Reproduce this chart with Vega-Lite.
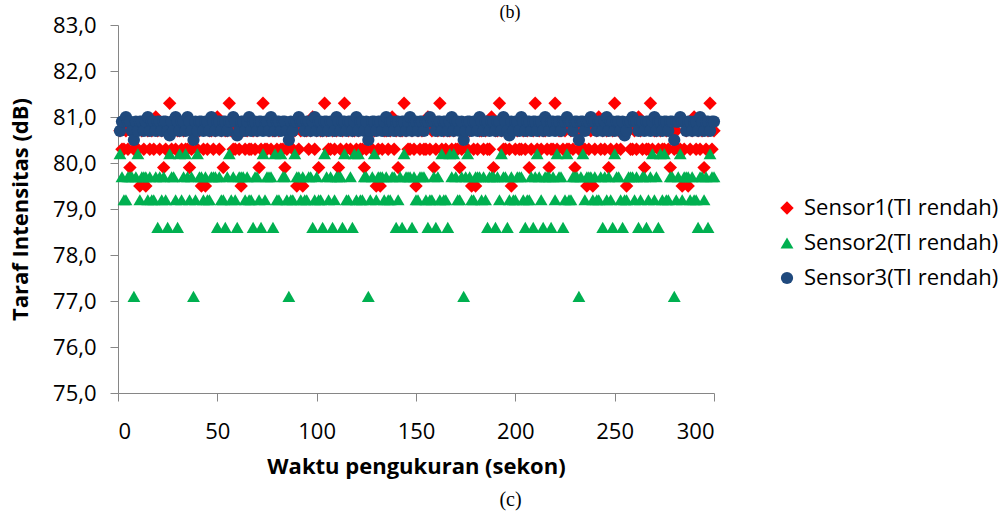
{
"$schema":"https://vega.github.io/schema/vega-lite/v6.json",
"width":596,"height":368,
"autosize":{"type":"none"},
"padding":{"left":118,"top":25,"right":293,"bottom":122},
"background":"white",
"config":{"view":{"stroke":null},"font":"Open Sans"},
"title":{"text":"(b)","font":"Liberation Serif","fontSize":18,"fontWeight":"normal","color":"black","anchor":"middle","frame":"group","dx":94,"offset":-8},
"data":{"values":[
{"t":1,"a":80.7,"b":80.2,"c":80.7},{"t":2,"a":80.3,"b":79.7,"c":80.9},{"t":3,"a":80.3,"b":79.2,"c":80.9},{"t":4,"a":80.7,"b":79.2,"c":81.0},{"t":5,"a":80.3,"b":79.7,"c":80.9},
{"t":6,"a":79.9,"b":79.7,"c":80.9},{"t":7,"a":80.7,"b":79.7,"c":80.7},{"t":8,"a":80.3,"b":77.1,"c":80.5},{"t":9,"a":80.7,"b":79.7,"c":80.9},{"t":10,"a":80.3,"b":80.2,"c":80.7},
{"t":11,"a":79.5,"b":79.2,"c":80.9},{"t":12,"a":80.7,"b":79.7,"c":80.9},{"t":13,"a":80.3,"b":79.7,"c":80.7},{"t":14,"a":79.5,"b":79.7,"c":80.9},{"t":15,"a":80.7,"b":79.2,"c":81.0},
{"t":16,"a":80.3,"b":79.7,"c":80.7},{"t":17,"a":80.7,"b":79.2,"c":80.9},{"t":18,"a":80.3,"b":79.2,"c":80.9},{"t":19,"a":81.0,"b":79.7,"c":80.7},{"t":20,"a":80.7,"b":78.6,"c":80.9},
{"t":21,"a":80.3,"b":79.7,"c":80.9},{"t":22,"a":80.7,"b":79.2,"c":80.7},{"t":23,"a":79.9,"b":79.7,"c":80.9},{"t":24,"a":80.3,"b":79.2,"c":80.9},{"t":25,"a":80.7,"b":78.6,"c":80.7},
{"t":26,"a":81.3,"b":80.2,"c":80.6},{"t":27,"a":80.3,"b":79.7,"c":80.9},{"t":28,"a":80.7,"b":79.7,"c":80.7},{"t":29,"a":80.3,"b":79.2,"c":81.0},{"t":30,"a":80.7,"b":78.6,"c":80.9},
{"t":31,"a":80.7,"b":80.2,"c":80.7},{"t":32,"a":80.3,"b":79.2,"c":80.9},{"t":33,"a":80.7,"b":79.7,"c":80.9},{"t":34,"a":80.3,"b":80.2,"c":80.7},{"t":35,"a":80.3,"b":79.7,"c":81.0},
{"t":36,"a":79.9,"b":79.2,"c":80.9},{"t":37,"a":80.3,"b":79.7,"c":80.7},{"t":38,"a":80.7,"b":77.1,"c":80.5},{"t":39,"a":80.7,"b":79.2,"c":80.9},{"t":40,"a":80.3,"b":80.2,"c":80.7},
{"t":41,"a":80.7,"b":79.7,"c":80.9},{"t":42,"a":79.5,"b":79.7,"c":80.9},{"t":43,"a":80.3,"b":79.2,"c":80.7},{"t":44,"a":79.5,"b":79.7,"c":80.9},{"t":45,"a":80.3,"b":79.2,"c":80.9},
{"t":46,"a":80.7,"b":79.2,"c":80.7},{"t":47,"a":80.7,"b":79.7,"c":81.0},{"t":48,"a":80.3,"b":79.7,"c":80.9},{"t":49,"a":80.7,"b":79.7,"c":80.7},{"t":50,"a":81.0,"b":78.6,"c":80.9},
{"t":51,"a":80.3,"b":79.7,"c":80.9},{"t":52,"a":80.7,"b":79.2,"c":80.7},{"t":53,"a":79.9,"b":79.2,"c":80.9},{"t":54,"a":80.7,"b":78.6,"c":80.9},{"t":55,"a":80.7,"b":79.7,"c":80.7},
{"t":56,"a":81.3,"b":80.2,"c":80.9},{"t":57,"a":80.7,"b":79.2,"c":80.9},{"t":58,"a":80.3,"b":79.7,"c":81.0},{"t":59,"a":80.3,"b":79.2,"c":80.9},{"t":60,"a":80.7,"b":78.6,"c":80.6},
{"t":61,"a":80.3,"b":79.7,"c":80.7},{"t":62,"a":79.5,"b":79.7,"c":80.9},{"t":63,"a":80.7,"b":79.7,"c":80.9},{"t":64,"a":80.3,"b":79.2,"c":80.7},{"t":65,"a":80.7,"b":79.7,"c":80.9},
{"t":66,"a":80.3,"b":79.2,"c":81.0},{"t":67,"a":80.3,"b":79.2,"c":80.7},{"t":68,"a":80.7,"b":78.6,"c":80.9},{"t":69,"a":80.3,"b":79.7,"c":80.9},{"t":70,"a":80.7,"b":79.7,"c":80.7},
{"t":71,"a":79.9,"b":79.2,"c":80.9},{"t":72,"a":80.3,"b":78.6,"c":80.9},{"t":73,"a":81.3,"b":80.2,"c":80.7},{"t":74,"a":80.3,"b":79.2,"c":80.9},{"t":75,"a":80.3,"b":79.7,"c":80.9},
{"t":76,"a":80.7,"b":79.7,"c":80.7},{"t":77,"a":80.3,"b":79.7,"c":81.0},{"t":78,"a":80.7,"b":78.6,"c":80.9},{"t":79,"a":80.7,"b":80.2,"c":80.7},{"t":80,"a":80.3,"b":79.2,"c":80.9},
{"t":81,"a":80.7,"b":79.2,"c":80.9},{"t":82,"a":80.3,"b":80.2,"c":80.7},{"t":83,"a":80.3,"b":79.7,"c":80.9},{"t":84,"a":79.9,"b":79.7,"c":80.9},{"t":85,"a":80.3,"b":79.2,"c":80.7},
{"t":86,"a":80.7,"b":77.1,"c":80.5},{"t":87,"a":80.7,"b":79.2,"c":80.9},{"t":88,"a":80.3,"b":79.2,"c":80.7},{"t":89,"a":80.7,"b":80.2,"c":80.9},{"t":90,"a":79.5,"b":79.7,"c":80.9},
{"t":91,"a":80.3,"b":79.7,"c":81.0},{"t":92,"a":80.7,"b":79.2,"c":80.9},{"t":93,"a":79.5,"b":79.7,"c":80.9},{"t":94,"a":80.7,"b":79.2,"c":80.7},{"t":95,"a":80.7,"b":79.2,"c":80.9},
{"t":96,"a":80.3,"b":79.7,"c":80.9},{"t":97,"a":80.7,"b":79.7,"c":80.7},{"t":98,"a":81.0,"b":78.6,"c":80.9},{"t":99,"a":80.3,"b":79.2,"c":81.0},{"t":100,"a":80.7,"b":79.7,"c":80.7},
{"t":101,"a":79.9,"b":79.2,"c":80.9},{"t":102,"a":80.7,"b":79.2,"c":80.9},{"t":103,"a":80.7,"b":78.6,"c":80.7},{"t":104,"a":81.3,"b":80.2,"c":80.9},{"t":105,"a":80.7,"b":79.7,"c":80.9},
{"t":106,"a":80.3,"b":79.2,"c":80.7},{"t":107,"a":80.3,"b":79.7,"c":80.9},{"t":108,"a":80.7,"b":78.6,"c":80.9},{"t":109,"a":80.3,"b":79.2,"c":80.7},{"t":110,"a":80.7,"b":79.7,"c":81.0},
{"t":111,"a":79.9,"b":79.7,"c":80.9},{"t":112,"a":80.3,"b":79.7,"c":80.7},{"t":113,"a":80.7,"b":78.6,"c":80.9},{"t":114,"a":81.3,"b":80.2,"c":80.9},{"t":115,"a":80.3,"b":79.2,"c":80.7},
{"t":116,"a":80.7,"b":79.2,"c":80.9},{"t":117,"a":80.3,"b":79.7,"c":80.9},{"t":118,"a":80.7,"b":78.6,"c":80.7},{"t":119,"a":80.7,"b":80.2,"c":80.9},{"t":120,"a":80.3,"b":79.2,"c":81.0},
{"t":121,"a":80.7,"b":80.2,"c":80.7},{"t":122,"a":80.3,"b":79.2,"c":80.9},{"t":123,"a":80.3,"b":79.2,"c":80.9},{"t":124,"a":79.9,"b":79.7,"c":80.7},{"t":125,"a":80.3,"b":79.7,"c":80.9},
{"t":126,"a":80.7,"b":77.1,"c":80.5},{"t":127,"a":80.7,"b":79.2,"c":80.7},{"t":128,"a":80.3,"b":79.7,"c":80.9},{"t":129,"a":80.7,"b":80.2,"c":80.9},{"t":130,"a":79.5,"b":79.2,"c":80.7},
{"t":131,"a":80.3,"b":79.7,"c":80.9},{"t":132,"a":79.5,"b":79.7,"c":80.9},{"t":133,"a":80.3,"b":79.7,"c":80.7},{"t":134,"a":80.7,"b":79.2,"c":80.9},{"t":135,"a":80.7,"b":79.7,"c":81.0},
{"t":136,"a":80.3,"b":79.2,"c":80.7},{"t":137,"a":80.7,"b":79.2,"c":80.9},{"t":138,"a":81.0,"b":79.7,"c":80.9},{"t":139,"a":80.3,"b":79.7,"c":80.7},{"t":140,"a":80.7,"b":78.6,"c":80.9},
{"t":141,"a":79.9,"b":79.2,"c":80.9},{"t":142,"a":80.7,"b":79.7,"c":80.7},{"t":143,"a":80.7,"b":78.6,"c":80.9},{"t":144,"a":81.3,"b":80.2,"c":80.9},{"t":145,"a":80.7,"b":79.7,"c":80.7},
{"t":146,"a":80.3,"b":79.7,"c":80.9},{"t":147,"a":80.3,"b":79.7,"c":81.0},{"t":148,"a":80.7,"b":78.6,"c":80.7},{"t":149,"a":80.3,"b":79.7,"c":80.9},{"t":150,"a":79.5,"b":79.2,"c":80.9},
{"t":151,"a":80.7,"b":79.2,"c":80.7},{"t":152,"a":80.3,"b":79.7,"c":80.9},{"t":153,"a":80.7,"b":79.7,"c":80.9},{"t":154,"a":80.3,"b":79.7,"c":80.7},{"t":155,"a":80.3,"b":79.2,"c":80.9},
{"t":156,"a":81.0,"b":78.6,"c":80.9},{"t":157,"a":80.3,"b":79.2,"c":81.0},{"t":158,"a":80.7,"b":79.2,"c":80.9},{"t":159,"a":79.9,"b":79.7,"c":80.9},{"t":160,"a":80.3,"b":78.6,"c":80.7},
{"t":161,"a":80.7,"b":79.7,"c":80.9},{"t":162,"a":81.3,"b":79.2,"c":80.9},{"t":163,"a":80.3,"b":80.2,"c":80.7},{"t":164,"a":80.7,"b":79.2,"c":80.9},{"t":165,"a":80.3,"b":79.2,"c":80.9},
{"t":166,"a":80.7,"b":78.6,"c":80.7},{"t":167,"a":80.7,"b":80.2,"c":80.9},{"t":168,"a":80.3,"b":79.7,"c":81.0},{"t":169,"a":80.7,"b":80.2,"c":80.7},{"t":170,"a":80.3,"b":79.7,"c":80.9},
{"t":171,"a":80.3,"b":79.2,"c":80.9},{"t":172,"a":79.9,"b":79.2,"c":80.7},{"t":173,"a":80.3,"b":79.7,"c":80.9},{"t":174,"a":80.7,"b":77.1,"c":80.5},{"t":175,"a":80.7,"b":79.7,"c":80.7},
{"t":176,"a":80.3,"b":80.2,"c":80.9},{"t":177,"a":80.7,"b":79.7,"c":80.9},{"t":178,"a":79.5,"b":79.2,"c":80.7},{"t":179,"a":80.3,"b":79.2,"c":80.9},{"t":180,"a":79.5,"b":79.7,"c":80.9},
{"t":181,"a":80.3,"b":79.7,"c":80.7},{"t":182,"a":80.7,"b":79.7,"c":81.0},{"t":183,"a":80.7,"b":79.2,"c":80.9},{"t":184,"a":80.3,"b":79.7,"c":80.7},{"t":185,"a":80.7,"b":79.2,"c":80.9},
{"t":186,"a":80.3,"b":78.6,"c":80.9},{"t":187,"a":80.3,"b":79.7,"c":80.7},{"t":188,"a":81.0,"b":79.7,"c":80.9},{"t":189,"a":79.9,"b":79.7,"c":80.9},{"t":190,"a":80.7,"b":78.6,"c":80.7},
{"t":191,"a":80.7,"b":79.7,"c":80.9},{"t":192,"a":81.3,"b":79.2,"c":80.9},{"t":193,"a":80.7,"b":80.2,"c":80.7},{"t":194,"a":80.3,"b":79.7,"c":81.0},{"t":195,"a":80.3,"b":79.7,"c":80.9},
{"t":196,"a":80.7,"b":78.6,"c":80.7},{"t":197,"a":80.3,"b":79.2,"c":80.6},{"t":198,"a":79.5,"b":79.7,"c":80.9},{"t":199,"a":80.7,"b":79.2,"c":80.7},{"t":200,"a":80.3,"b":79.2,"c":80.9},
{"t":201,"a":80.7,"b":79.7,"c":80.9},{"t":202,"a":80.3,"b":79.7,"c":80.7},{"t":203,"a":80.3,"b":79.7,"c":81.0},{"t":204,"a":80.7,"b":79.2,"c":80.9},{"t":205,"a":80.3,"b":78.6,"c":80.7},
{"t":206,"a":80.7,"b":79.2,"c":80.9},{"t":207,"a":79.9,"b":79.2,"c":80.9},{"t":208,"a":80.3,"b":79.7,"c":80.7},{"t":209,"a":80.7,"b":78.6,"c":80.9},{"t":210,"a":81.3,"b":79.7,"c":80.9},
{"t":211,"a":80.3,"b":80.2,"c":80.7},{"t":212,"a":80.7,"b":79.7,"c":80.9},{"t":213,"a":80.3,"b":79.2,"c":80.9},{"t":214,"a":80.7,"b":78.6,"c":80.7},{"t":215,"a":80.7,"b":79.7,"c":81.0},
{"t":216,"a":80.3,"b":79.7,"c":80.9},{"t":217,"a":79.9,"b":79.7,"c":80.7},{"t":218,"a":80.3,"b":78.6,"c":80.9},{"t":219,"a":80.3,"b":79.7,"c":80.9},{"t":220,"a":81.3,"b":79.2,"c":80.7},
{"t":221,"a":80.3,"b":80.2,"c":80.9},{"t":222,"a":80.7,"b":79.7,"c":80.9},{"t":223,"a":80.7,"b":79.7,"c":80.7},{"t":224,"a":80.3,"b":78.6,"c":80.9},{"t":225,"a":80.7,"b":79.2,"c":80.9},
{"t":226,"a":80.3,"b":80.2,"c":81.0},{"t":227,"a":80.3,"b":79.2,"c":80.9},{"t":228,"a":80.7,"b":79.2,"c":80.9},{"t":229,"a":80.3,"b":79.7,"c":80.7},{"t":230,"a":79.9,"b":79.7,"c":80.9},
{"t":231,"a":80.7,"b":79.7,"c":80.9},{"t":232,"a":80.3,"b":77.1,"c":80.5},{"t":233,"a":80.7,"b":79.7,"c":80.9},{"t":234,"a":80.3,"b":80.2,"c":80.9},{"t":235,"a":80.3,"b":79.2,"c":80.7},
{"t":236,"a":79.5,"b":79.7,"c":80.9},{"t":237,"a":80.3,"b":79.7,"c":80.9},{"t":238,"a":80.7,"b":79.7,"c":81.0},{"t":239,"a":79.5,"b":79.2,"c":80.9},{"t":240,"a":80.3,"b":79.7,"c":80.9},
{"t":241,"a":80.7,"b":79.2,"c":80.7},{"t":242,"a":81.0,"b":79.2,"c":80.9},{"t":243,"a":80.3,"b":79.7,"c":80.9},{"t":244,"a":80.7,"b":78.6,"c":80.7},{"t":245,"a":80.3,"b":79.7,"c":80.9},
{"t":246,"a":80.7,"b":79.2,"c":81.0},{"t":247,"a":79.9,"b":79.7,"c":80.7},{"t":248,"a":80.3,"b":79.2,"c":80.9},{"t":249,"a":80.7,"b":78.6,"c":80.9},{"t":250,"a":81.3,"b":80.2,"c":80.7},
{"t":251,"a":80.3,"b":79.7,"c":80.9},{"t":252,"a":80.7,"b":79.7,"c":80.9},{"t":253,"a":80.3,"b":79.2,"c":80.7},{"t":254,"a":80.7,"b":78.6,"c":80.9},{"t":255,"a":80.7,"b":79.2,"c":80.6},
{"t":256,"a":79.5,"b":79.2,"c":80.7},{"t":257,"a":80.7,"b":79.7,"c":80.9},{"t":258,"a":80.3,"b":79.7,"c":80.9},{"t":259,"a":80.3,"b":79.7,"c":81.0},{"t":260,"a":80.7,"b":79.2,"c":80.9},
{"t":261,"a":80.3,"b":79.7,"c":80.9},{"t":262,"a":81.0,"b":78.6,"c":80.7},{"t":263,"a":80.7,"b":79.2,"c":80.9},{"t":264,"a":80.3,"b":79.7,"c":80.9},{"t":265,"a":79.9,"b":79.7,"c":80.7},
{"t":266,"a":80.3,"b":78.6,"c":80.9},{"t":267,"a":80.3,"b":79.2,"c":80.9},{"t":268,"a":81.3,"b":79.7,"c":80.7},{"t":269,"a":80.3,"b":80.2,"c":80.9},{"t":270,"a":80.7,"b":79.2,"c":81.0},
{"t":271,"a":80.7,"b":79.7,"c":80.7},{"t":272,"a":80.3,"b":78.6,"c":80.9},{"t":273,"a":80.7,"b":80.2,"c":80.9},{"t":274,"a":80.3,"b":79.2,"c":80.7},{"t":275,"a":80.3,"b":80.2,"c":80.9},
{"t":276,"a":80.7,"b":79.2,"c":80.9},{"t":277,"a":80.3,"b":79.2,"c":80.7},{"t":278,"a":79.9,"b":79.7,"c":80.9},{"t":279,"a":80.7,"b":79.7,"c":80.9},{"t":280,"a":80.3,"b":77.1,"c":80.5},
{"t":281,"a":80.7,"b":79.2,"c":80.9},{"t":282,"a":80.3,"b":79.7,"c":80.9},{"t":283,"a":80.3,"b":80.2,"c":81.0},{"t":284,"a":79.5,"b":79.2,"c":80.9},{"t":285,"a":80.3,"b":79.7,"c":80.9},
{"t":286,"a":80.7,"b":79.7,"c":80.7},{"t":287,"a":79.5,"b":79.7,"c":80.9},{"t":288,"a":80.3,"b":79.2,"c":80.9},{"t":289,"a":80.7,"b":79.7,"c":80.7},{"t":290,"a":81.0,"b":79.2,"c":80.9},
{"t":291,"a":80.3,"b":79.2,"c":80.9},{"t":292,"a":80.7,"b":78.6,"c":80.7},{"t":293,"a":80.3,"b":79.7,"c":81.0},{"t":294,"a":80.7,"b":79.7,"c":80.9},{"t":295,"a":79.9,"b":79.2,"c":80.7},
{"t":296,"a":80.3,"b":79.7,"c":80.9},{"t":297,"a":80.7,"b":78.6,"c":80.9},{"t":298,"a":81.3,"b":80.2,"c":80.7},{"t":299,"a":80.3,"b":79.7,"c":80.9},{"t":300,"a":80.7,"b":79.7,"c":80.9}
]},
"transform":[{"fold":["a","b","c"],"as":["s","v"]}],
"layer":[
{"mark":{"type":"point","filled":true,"opacity":1,"strokeWidth":0},
 "encoding":{
  "x":{"field":"t","type":"quantitative","scale":{"domain":[0,300],"nice":false},
       "axis":{"values":[0,50,100,150,200,250,300],"title":"Waktu pengukuran (sekon)","grid":false,
               "labelFontSize":22,"labelColor":"black","labelFont":"Open Sans","tickSize":8,"tickColor":"#868686","domainColor":"#868686",
               "labelPadding":20,"titleFontSize":22,"titleFontWeight":"bold","titleColor":"black","titleFont":"Open Sans","titlePadding":14}},
  "y":{"field":"v","type":"quantitative","scale":{"domain":[75,83],"zero":false,"nice":false},
       "axis":{"values":[75,76,77,78,79,80,81,82,83],"labelExpr":"replace(format(datum.value,'.1f'),'.',',')","title":"Taraf Intensitas (dB)","grid":false,
               "labelFontSize":22,"labelColor":"black","labelFont":"Open Sans","tickSize":8,"tickColor":"#868686","domainColor":"#868686",
               "labelPadding":14,"titleFontSize":22,"titleFontWeight":"bold","titleColor":"black","titleFont":"Open Sans","titlePadding":20}},
  "color":{"field":"s","type":"nominal","scale":{"domain":["a","b","c"],"range":["#FF0000","#00B050","#1F497D"]},
           "legend":{"orient":"none","legendX":658,"legendY":172,"title":null,"labelFontSize":22,"labelColor":"black","labelFont":"Open Sans",
                     "symbolSize":110,"rowPadding":13,"labelOffset":6,"padding":0,"labelLimit":0,
                     "labelExpr":"datum.label=='a'?'Sensor1(TI rendah)':datum.label=='b'?'Sensor2(TI rendah)':'Sensor3(TI rendah)'"}},
  "shape":{"field":"s","type":"nominal","scale":{"domain":["a","b","c"],"range":["diamond","triangle-up","circle"]}},
  "size":{"field":"s","type":"nominal","scale":{"domain":["a","b","c"],"range":[180,150,160]},"legend":null},
  "order":{"field":"s","sort":"ascending"}
 }},
{"mark":{"type":"point","opacity":0},
 "encoding":{"x":{"field":"t","type":"quantitative",
   "axis":{"orient":"bottom","title":"(c)","labels":false,"ticks":false,"domain":false,"grid":false,
           "titleFont":"Liberation Serif","titleFontSize":20,"titleFontWeight":"normal","titleColor":"black","titlePadding":96,"titleX":392}}}}
],
"resolve":{"axis":{"x":"independent"}}
}
